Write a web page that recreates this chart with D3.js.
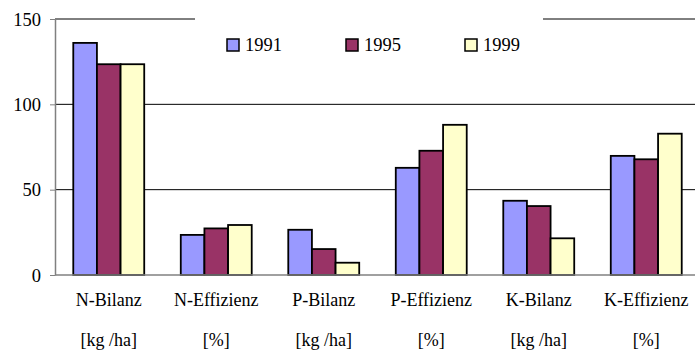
<!DOCTYPE html>
<html>
<head>
<meta charset="utf-8">
<script src="https://cdn.jsdelivr.net/npm/d3@7"></script>
</head>
<body style="margin:0">
<svg id="chart" width="695" height="353"></svg>
<script>
// Nutrient balances and efficiencies per survey year
const categories = ["N-Bilanz", "N-Effizienz", "P-Bilanz", "P-Effizienz", "K-Bilanz", "K-Effizienz"];
const units = ["[kg /ha]", "[%]", "[kg /ha]", "[%]", "[kg /ha]", "[%]"];
const years = ["1991", "1995", "1999"];
const values1991 = [136, 23.5, 26.5, 62.8, 43.5, 69.8];
const values1995 = [123.5, 27.3, 15.2, 72.8, 40.4, 67.8];
const values1999 = [123.5, 29.3, 7.2, 88, 21.5, 82.8];
const yTicks = [0, 50, 100, 150];
const colors = ["#9999FF", "#993366", "#FFFFCC"];

const seriesValues = [values1991, values1995, values1999];
const fontFamily = "'Liberation Serif'";
const baseSize = 24; // text is laid out at this size and scaled down

const svg = d3.select("#chart");
const plotLeft = 55, plotRight = 700, plotTop = 19, plotBottom = 275;

// place a serif label at (x, y) with an effective pixel size
function label(parent, x, y, size, str, anchor) {
  return parent.append("text")
    .attr("transform", `translate(${x},${y}) scale(${size / baseSize})`)
    .attr("text-anchor", anchor || "start")
    .style("font-family", fontFamily)
    .style("font-size", baseSize + "px")
    .attr("fill", "#000")
    .text(str);
}

const x0 = d3.scaleBand()
  .domain(categories)
  .range([plotLeft, plotRight])
  .paddingInner(0.34)
  .paddingOuter(0.17);

const x1 = d3.scaleBand()
  .domain(years)
  .range([0, x0.bandwidth()]);

const y = d3.scaleLinear().domain([0, 150]).range([plotBottom, plotTop]);

// horizontal gridlines
svg.append("g")
  .selectAll("line")
  .data(yTicks.filter(d => d > 0))
  .join("line")
  .attr("x1", plotLeft).attr("x2", plotRight)
  .attr("y1", d => y(d)).attr("y2", d => y(d))
  .attr("stroke", "#000")
  .attr("stroke-width", 1);

// legend background box (covers the top gridline)
const legend = svg.append("g");
legend.append("rect")
  .attr("x", 195).attr("y", 12)
  .attr("width", 348).attr("height", 52)
  .attr("fill", "#fff");

const legendX = [227, 346, 465];
years.forEach((yr, i) => {
  legend.append("rect")
    .attr("x", legendX[i]).attr("y", 39)
    .attr("width", 12).attr("height", 12)
    .attr("fill", colors[i])
    .attr("stroke", "#000").attr("stroke-width", 1.5);
  label(legend, legendX[i] + 18, 51, 18.5, yr);
});

// bars
const groups = svg.append("g")
  .selectAll("g")
  .data(categories)
  .join("g")
  .attr("transform", d => `translate(${x0(d)},0)`);

groups.selectAll("rect")
  .data((d, ci) => years.map((yr, si) => ({ yr, si, v: seriesValues[si][ci] })))
  .join("rect")
  .attr("x", d => x1(d.yr))
  .attr("y", d => y(d.v))
  .attr("width", x1.bandwidth())
  .attr("height", d => y(0) - y(d.v))
  .attr("fill", d => colors[d.si])
  .attr("stroke", "#000")
  .attr("stroke-width", 1.8);

// y axis: line and ticks from d3.axisLeft, labels drawn as serif text
const yAxis = d3.axisLeft(y)
  .tickValues(yTicks)
  .tickSizeInner(5)
  .tickSizeOuter(0)
  .tickFormat("");

const ya = svg.append("g")
  .attr("transform", `translate(${plotLeft},0)`)
  .call(yAxis);
ya.select(".domain").attr("stroke", "#808080").attr("stroke-width", 1.5);
ya.selectAll(".tick line").attr("stroke", "#808080");

const yLabels = svg.append("g");
yTicks.forEach(t => label(yLabels, plotLeft - 14, y(t) + 6.5, 18.5, d3.format("d")(t), "end"));

// baseline
svg.append("line")
  .attr("x1", plotLeft).attr("x2", plotRight)
  .attr("y1", y(0)).attr("y2", y(0))
  .attr("stroke", "#808080")
  .attr("stroke-width", 1.5);

// category labels with units
const catLabels = svg.append("g");
categories.forEach((c, i) => {
  const cx = x0(c) + x0.bandwidth() / 2;
  label(catLabels, cx, 306, 18, c, "middle");
  label(catLabels, cx, 346, 18, units[i], "middle");
});
</script>
</body>
</html>
